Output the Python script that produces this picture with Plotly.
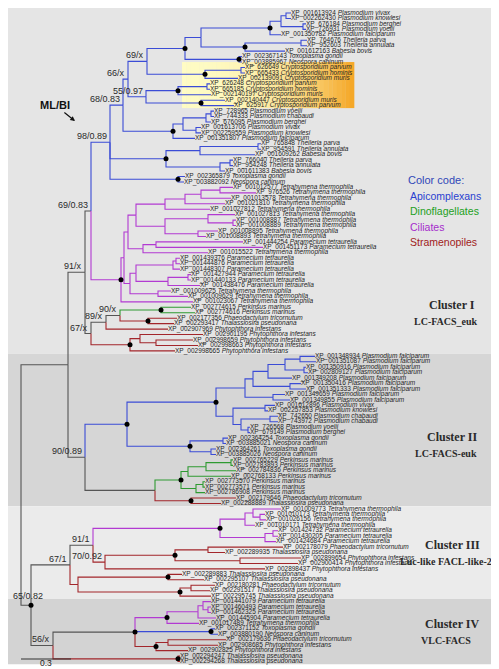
import plotly.graph_objects as go

# ------------------------------------------------------------------ data
ACCESSIONS = [
    "XP_001613924", "XP_002262430", "XP_676184", "XP_726931", "XP_001350782",
    "XP_764676", "XP_952603", "XP_001612163", "XP_002367143", "XP_003885967",
    "XP_626649", "XP_665433", "XP_002139091", "XP_626248", "XP_665185",
    "XP_002140197", "XP_002140447", "XP_625917", "XP_728965", "XP_744333",
    "XP_676095", "XP_001613706", "XP_002259559", "XP_001351807", "XP_765848",
    "XP_954591", "XP_001609262", "XP_766040", "XP_954248", "XP_001611383",
    "XP_002365879", "XP_003882092", "XP_001012577", "XP_976526", "XP_001013578",
    "XP_001021810", "XP_001027812", "XP_001027813", "XP_001008887", "XP_001008889",
    "XP_001008895", "XP_001008893", "XP_001444254", "XP_001451173", "XP_001015522",
    "XP_001439376", "XP_001444876", "XP_001448307", "XP_001427944", "XP_001440133",
    "XP_001438476", "XP_001009625", "XP_001009629", "XP_001023067", "XP_002774615",
    "XP_002774616", "XP_002177356", "XP_002293417", "XP_002907969", "XP_002901195",
    "XP_002998659", "XP_002998663", "XP_002998665", "XP_001348934", "XP_001351087",
    "XP_001350916", "XP_002809127", "XP_001349208", "XP_001350416", "XP_001351333",
    "XP_001349659", "XP_001349855", "XP_001612896", "XP_002257853", "XP_742650",
    "XP_743972", "XP_726568", "XP_679149", "XP_002364254", "XP_003885021",
    "XP_002364261", "XP_003885026", "XP_002765229", "XP_002783893", "XP_002784836",
    "XP_002768133", "XP_002773570", "XP_002773571", "XP_002786908", "XP_002179646",
    "XP_002288889", "XP_001009773", "XP_001010173", "XP_001026156", "XP_001010171",
    "XP_001424732", "XP_001430205", "XP_001424684", "XP_002178079", "XP_002289935",
    "XP_002899654", "XP_002900414", "XP_002898437", "XP_002289883", "XP_002295107",
    "XP_002180281", "XP_002291517", "XP_002295745", "XP_001441079", "XP_001460493",
    "XP_001462325", "XP_001445904", "XP_001017489", "XP_002371152", "XP_003880190",
    "XP_002179636", "XP_002908685", "XP_002902825", "XP_002294247", "XP_002294268",
]

SPECIES = (
    ["Plasmodium vivax", "Plasmodium knowlesi", "Plasmodium berghei", "Plasmodium yoelii",
     "Plasmodium falciparum", "Theileria parva", "Theileria annulata", "Babesia bovis",
     "Toxoplasma gondii", "Neospora caninum",
     "Cryptosporidium parvum", "Cryptosporidium hominis", "Cryptosporidium muris",
     "Cryptosporidium parvum", "Cryptosporidium hominis", "Cryptosporidium muris",
     "Cryptosporidium muris", "Cryptosporidium parvum",
     "Plasmodium yoelii", "Plasmodium chabaudi", "Plasmodium berghei", "Plasmodium vivax",
     "Plasmodium knowlesi", "Plasmodium falciparum",
     "Theileria parva", "Theileria annulata", "Babesia bovis", "Theileria parva",
     "Theileria annulata", "Babesia bovis", "Toxoplasma gondii", "Neospora caninum"]
    + ["Tetrahymena thermophila"] * 10
    + ["Paramecium tetraurelia", "Paramecium tetraurelia", "Tetrahymena thermophila"]
    + ["Paramecium tetraurelia"] * 6
    + ["Tetrahymena thermophila"] * 3
    + ["Perkinsus marinus", "Perkinsus marinus",
       "Phaeodactylum tricornutum", "Thalassiosira pseudonana"]
    + ["Phytophthora infestans"] * 5
    + ["Plasmodium falciparum"] * 9
    + ["Plasmodium vivax", "Plasmodium knowlesi", "Plasmodium chabaudi", "Plasmodium chabaudi",
       "Plasmodium yoelii", "Plasmodium berghei",
       "Toxoplasma gondii", "Neospora caninum", "Toxoplasma gondii", "Neospora caninum"]
    + ["Perkinsus marinus"] * 7
    + ["Phaeodactylum tricornutum", "Thalassiosira pseudonana"]
    + ["Tetrahymena thermophila"] * 4
    + ["Paramecium tetraurelia"] * 3
    + ["Phaeodactylum tricornutum", "Thalassiosira pseudonana"]
    + ["Phytophthora infestans"] * 3
    + ["Thalassiosira pseudonana", "Thalassiosira pseudonana", "Phaeodactylum tricornutum",
       "Thalassiosira pseudonana", "Thalassiosira pseudonana"]
    + ["Paramecium tetraurelia"] * 4
    + ["Tetrahymena thermophila", "Toxoplasma gondii", "Neospora caninum",
       "Phaeodactylum tricornutum", "Phytophthora infestans", "Phytophthora infestans",
       "Thalassiosira pseudonana", "Thalassiosira pseudonana"]
)

GENUS_GROUP = {
    "Plasmodium": "Apicomplexans", "Theileria": "Apicomplexans", "Babesia": "Apicomplexans",
    "Toxoplasma": "Apicomplexans", "Neospora": "Apicomplexans", "Cryptosporidium": "Apicomplexans",
    "Perkinsus": "Dinoflagellates",
    "Tetrahymena": "Ciliates", "Paramecium": "Ciliates",
    "Phaeodactylum": "Stramenopiles", "Thalassiosira": "Stramenopiles", "Phytophthora": "Stramenopiles",
}
GROUPS = ["Apicomplexans", "Dinoflagellates", "Ciliates", "Stramenopiles"]

# Tree (Newick; leaf Ln = n-th accession; branch lengths in substitutions/site;
# internal labels = ML bootstrap / BI posterior support, '*' = node marked with a dot)
P1 = "(((L1:0.03,L2:0.03):0.03,(L3:0.018,L4:0.018):0.132):0.066,L5:0.066)*:0.414"
TB1 = "((L6:0.036,L7:0.036):0.336,L8:0.24)*:0.264"
TN1 = "(L9:0.018,L10:0.018)*:0.324"
NA_ = f"(({P1},{TB1}):0.096,{TN1})*:0.228"
C1 = "((L11:0.024,L12:0.024):0.216,L13:0.198)*:0.348"
C2 = "((L14:0.018,L15:0.018):0.174,L16:0.198)*:0.192"
C3 = "(L17:0.144,L18:0.198)*:0.33"
N66 = f"(({NA_},{C1})69/x:0.114,({C2},{C3})55/0.97:0.108)66/x:0.03"
PL = "((((L19:0.018,L20:0.018):0.03,L21:0.03):0.138,(L22:0.03,L23:0.03):0.078):0.06,L24:0.132)*:0.3"
TB2 = ("(((L25:0.018,L26:0.018):0.348,L27:0.33):0.204,"
       "((L28:0.018,L29:0.018):0.06,L30:0.03):0.324)*:0.336")
TN2 = "(L31:0.042,L32:0.036)*:0.408"
API_I = f"(({N66},{PL})68/0.83:0.078,{TB2},{TN2})98/0.89:0.114"

CIL_A = ("((((((L33:0.078,L34:0.216):0.114,L35:0.18):0.096,L36:0.24):0.12,L37:0.27):0.174,"
         "((L38:0.162,(L39:0.018,L40:0.018):0.15):0.258,(L41:0.12,L42:0.048):0.198):0.174):0.048,"
         "((L43:0.522,L44:0.642):0.078,L45:0.39):0.09):0.024")
CIL_B = ("((((L46:0.024,L47:0.024):0.018,L48:0.042):0.222,"
         "((L49:0.018,L50:0.018):0.12,L51:0.192):0.192):0.036,"
         "(L52:0.078,L53:0.18):0.168):0.036")
CIL_I = f"(({CIL_A},{CIL_B}):0.018,L54:0.432)*:0.18"
PERK_STRAM_I = ("((((L55:0.18,L56:0.204)*:0.246,(L57:0.174,L58:0.156)*:0.168)90/x:0.084,L59:0.372)89/x:0.09,"
                "((L60:0.378,(L61:0.222,L62:0.252):0.096):0.06,L63:0.27)*:0.234)67/x:0.036")
CLUSTER_I = f"(({API_I},{CIL_I})69/0.83:0.036,{PERK_STRAM_I})91/x:0.102"

PLAS_II = ("((((((L64:0.09,L65:0.096):0.09,(L66:0.012,L67:0.024):0.114):0.102,L68:0.144):0.09,"
           "(L69:0.066,L70:0.096):0.222):0.048,(L71:0.072,L72:0.102):0.168):0.174,"
           "((L73:0.06,L74:0.018):0.192,((L75:0.048,L76:0.048):0.174,"
           "(L77:0.012,L78:0.012):0.042):0.048):0.102)*:0.534")
TN_II = "((L79:0.03,L80:0.018):0.198,(L81:0.03,L82:0.03):0.126)*:0.378"
PERK_II = ("((((L83:0.012,L84:0.012):0.15,L85:0.18):0.108,L86:0.258):0.042,"
           "((L87:0.012,L88:0.012):0.042,L89:0.054):0.09)*:0.156")
STRAM_II = "(L90:0.27,L91:0.18)*:0.216"
CLUSTER_II = f"(({PLAS_II},{TN_II})*:0.252,({PERK_II},{STRAM_II}):0.42)90/0.89:0.102"

CIL_III = ("(((L92:0.168,(L93:0.03,L94:0.036):0.042):0.048,L95:0.06):0.15,"
           "((L96:0.03,L97:0.03):0.048,L98:0.066):0.27)*:0.762")
STRAM_III = "(((L99:0.45,L100:0.102):0.198,(L101:0.366,L102:0.348):0.39)*:0.42,L103:0.96)70/0.92:0.072"
STRAM_III_B = "((L104:0.084,L105:0.216)*:0.54,((L106:0.144,L107:0.114):0.066,L108:0.186)*:0.612):0.048"
CLUSTER_III = f"(({CIL_III},{STRAM_III})91/1:0.138,{STRAM_III_B})67/1:0.234"

CIL_IV = "(((L109:0.048,(L110:0.018,L111:0.018):0.03):0.03,L112:0.108):0.186,L113:0.192)*:0.192"
API_IV = "(L114:0.024,L115:0.042)*:0.456"
STRAM_IV = "((L116:0.348,L117:0.3):0.072,L118:0.192)*:0.126"
CLUSTER_IV = f"(({CIL_IV},{API_IV},{STRAM_IV})*:0.492,(L119:0.012,L120:0.012)*:0.75)56/x:0.132"

TREE = f"(({CLUSTER_I},{CLUSTER_II}):0.282,({CLUSTER_III},{CLUSTER_IV})65/0.82*:0.06);"

CLUSTERS = [  # name, subtitle, first leaf, last leaf
    ("Cluster I", "LC-FACS_euk", 1, 63),
    ("Cluster II", "LC-FACS-euk", 64, 91),
    ("Cluster III", "Luc-like FACL-like-2", 92, 108),
    ("Cluster IV", "VLC-FACS", 109, 120),
]
HIGHLIGHT_LEAVES = (11, 18)
SCALE_BAR = 0.3

# ------------------------------------------------------------------ style
W, H = 499, 669
PX_PER_UNIT = 50 / 0.3
ROOT_PX = 13
ROW0_PX, ROW_PX = 5.0, 5.45
COLORS = {"Apicomplexans": "#3b4cd6", "Dinoflagellates": "#2f9a32",
          "Ciliates": "#b23ad2", "Stramenopiles": "#a3262b", None: "#555555"}
TEXT_COLORS = {"Apicomplexans": "#2a3fd0", "Dinoflagellates": "#22a022",
               "Ciliates": "#a52ccc", "Stramenopiles": "#a02020"}
BAND_COLORS = ["#e5e5e5", "#d6d6d6", "#ebebeb", "#d3d3d3"]
SUPPORT_FONT = 9


# ------------------------------------------------------------------ tree parsing / layout
def parse(s):
    pos = 0

    def node():
        nonlocal pos
        n = {"children": [], "name": "", "bl": 0.0}
        if s[pos] == "(":
            pos += 1
            while True:
                n["children"].append(node())
                if s[pos] == ",":
                    pos += 1
                    continue
                pos += 1  # ')'
                break
        st = pos
        while s[pos] not in ",():;":
            pos += 1
        n["name"] = s[st:pos]
        if s[pos] == ":":
            pos += 1
            st = pos
            while s[pos] not in ",();":
                pos += 1
            n["bl"] = float(s[st:pos])
        return n

    return node()


root = parse(TREE)
leaves = []


def layout(n, depth):
    n["x"] = depth
    if not n["children"]:
        k = int(n["name"][1:]) - 1
        n["k"] = k
        n["y"] = len(leaves)
        leaves.append(n)
        n["group"] = GENUS_GROUP[SPECIES[k].split()[0]]
    else:
        for c in n["children"]:
            layout(c, depth + c["bl"])
        n["y"] = (n["children"][0]["y"] + n["children"][-1]["y"]) / 2
        gs = {c["group"] for c in n["children"]}
        n["group"] = gs.pop() if len(gs) == 1 else None


layout(root, 0.0)

segs = {}
dots_x, dots_y = [], []
supports = []


def walk(n):
    if "*" in n["name"]:
        dots_x.append(n["x"])
        dots_y.append(n["y"])
    lab = n["name"].replace("*", "")
    if n["children"] and lab:
        supports.append((n["x"], n["y"], lab))
    for c in n["children"]:
        xs, ys = segs.setdefault(c["group"], ([], []))
        xs += [n["x"], n["x"], c["x"], None]
        ys += [n["y"], c["y"], c["y"], None]
        walk(c)


walk(root)

# ------------------------------------------------------------------ figure
fig = go.Figure()

x_range = [-ROOT_PX / PX_PER_UNIT, (W - ROOT_PX) / PX_PER_UNIT]
y_range = [(H - ROW0_PX) / ROW_PX, -ROW0_PX / ROW_PX]


def px_x(v):
    return (v - ROOT_PX) / PX_PER_UNIT


def pp(px, py):
    return px / W, 1 - py / H


shapes = []
for i, (name, sub, a, b) in enumerate(CLUSTERS):
    y0 = (a - 1) - 0.5 if i > 0 else y_range[1]
    y1 = (b - 1) + 0.5
    shapes.append(dict(type="rect", xref="paper", yref="y", x0=0, x1=1, y0=y0, y1=y1,
                       fillcolor=BAND_COLORS[i], line=dict(width=0), layer="below"))

# gradient highlight behind the Cryptosporidium leaves
hx0, hx1 = px_x(174), px_x(346)
hy0 = HIGHLIGHT_LEAVES[0] - 1 - 1.0
hy1 = HIGHLIGHT_LEAVES[1] - 1 + 0.45
NSTRIP = 40
c0, c1 = (255, 252, 196), (245, 168, 40)
for i in range(NSTRIP):
    t = i / (NSTRIP - 1)
    tt = t ** 2.2
    col = tuple(int(c0[j] + (c1[j] - c0[j]) * tt) for j in range(3))
    xa = hx0 + (hx1 - hx0) * i / NSTRIP
    xb = hx0 + (hx1 - hx0) * (i + 1) / NSTRIP
    shapes.append(dict(type="rect", xref="x", yref="y", x0=xa, x1=xb + 0.002, y0=hy0, y1=hy1,
                       fillcolor="rgb(%d,%d,%d)" % col, line=dict(width=0), layer="below"))

for g in [None] + GROUPS:
    if g not in segs:
        continue
    xs, ys = segs[g]
    fig.add_trace(go.Scatter(x=xs, y=ys, mode="lines", hoverinfo="skip",
                             line=dict(color=COLORS[g], width=1.1), showlegend=False))

fig.add_trace(go.Scatter(x=dots_x, y=dots_y, mode="markers", hoverinfo="skip",
                         marker=dict(color="black", size=5), showlegend=False))

fig.add_trace(go.Scatter(
    x=[l["x"] for l in leaves], y=[l["y"] for l in leaves], mode="text",
    text=[f"{ACCESSIONS[l['k']]} <i>{SPECIES[l['k']]}</i>" for l in leaves],
    textposition="middle right", hoverinfo="skip", showlegend=False,
    textfont=dict(family="Liberation Sans, Arial", size=6.5, color="#262626")))

annotations = []
for x, y, lab in supports:
    node_px = ROOT_PX + x * PX_PER_UNIT
    est_w = len(lab) * SUPPORT_FONT * 0.5
    if node_px - est_w < 3:   # keep the label inside the picture
        annotations.append(dict(x=3 / W, y=y, xref="paper", yref="y", text=lab, showarrow=False,
                                xanchor="left", yanchor="bottom", yshift=2,
                                font=dict(family="Liberation Sans, Arial", size=SUPPORT_FONT,
                                          color="#2a2a2a")))
    else:
        annotations.append(dict(x=x, y=y, xref="x", yref="y", text=lab, showarrow=False,
                                xanchor="right", yanchor="bottom", xshift=-1, yshift=-1,
                                font=dict(family="Liberation Sans, Arial", size=SUPPORT_FONT,
                                          color="#2a2a2a")))

ax_, ay_ = pp(67, 113)
annotations.append(dict(x=ax_, y=ay_, xref="paper", yref="paper", text="<b>ML/BI</b>",
                        showarrow=True, ax=-20, ay=-16, arrowhead=2, arrowsize=0.8,
                        arrowwidth=1.2, arrowcolor="#111",
                        font=dict(family="Liberation Sans, Arial", size=11, color="#111")))

lx, ly = pp(398, 172)
annotations.append(dict(x=lx, y=ly, xref="paper", yref="paper", text="Color code:",
                        showarrow=False, xanchor="left", yanchor="middle",
                        font=dict(family="Liberation Sans, Arial", size=11, color="#3048b8")))
for i, g in enumerate(GROUPS):
    gx, gy = pp(400, 188 + i * 15.5)
    annotations.append(dict(x=gx, y=gy, xref="paper", yref="paper", text=g,
                            showarrow=False, xanchor="left", yanchor="middle",
                            font=dict(family="Liberation Sans, Arial", size=10.5,
                                      color=TEXT_COLORS[g])))

TITLE_PY = [297, 429, 537, 616]
for i, (name, sub, a, b) in enumerate(CLUSTERS):
    tx, ty = pp(444, TITLE_PY[i])
    annotations.append(dict(x=tx, y=ty, xref="paper", yref="paper", text=f"<b>{name}</b>",
                            showarrow=False, xanchor="center", yanchor="middle",
                            font=dict(family="Liberation Serif, DejaVu Serif", size=12,
                                      color="#2a2a2a")))
    tx, ty = pp(438, TITLE_PY[i] + 16)
    annotations.append(dict(x=tx, y=ty, xref="paper", yref="paper", text=f"<b>{sub}</b>",
                            showarrow=False, xanchor="center", yanchor="middle",
                            font=dict(family="Liberation Serif, DejaVu Serif", size=10,
                                      color="#2a2a2a")))

sy = 1 - 651 / H
shapes.append(dict(type="line", xref="x", yref="paper", x0=0, x1=SCALE_BAR, y0=sy, y1=sy,
                   line=dict(color="#333", width=1.2)))
annotations.append(dict(x=SCALE_BAR / 2, y=1 - 661 / H, xref="x", yref="paper", text=f"{SCALE_BAR}",
                        showarrow=False, xanchor="center", yanchor="bottom", borderpad=0,
                        font=dict(family="Liberation Sans, Arial", size=8.5, color="#222")))

fig.update_layout(
    width=W, height=H, autosize=False,
    margin=dict(l=0, r=0, t=0, b=0),
    paper_bgcolor="white", plot_bgcolor="white",
    xaxis=dict(range=x_range, visible=False, fixedrange=True),
    yaxis=dict(range=y_range, visible=False, fixedrange=True),
    shapes=shapes, annotations=annotations, showlegend=False,
)

fig.write_html("out.html")
